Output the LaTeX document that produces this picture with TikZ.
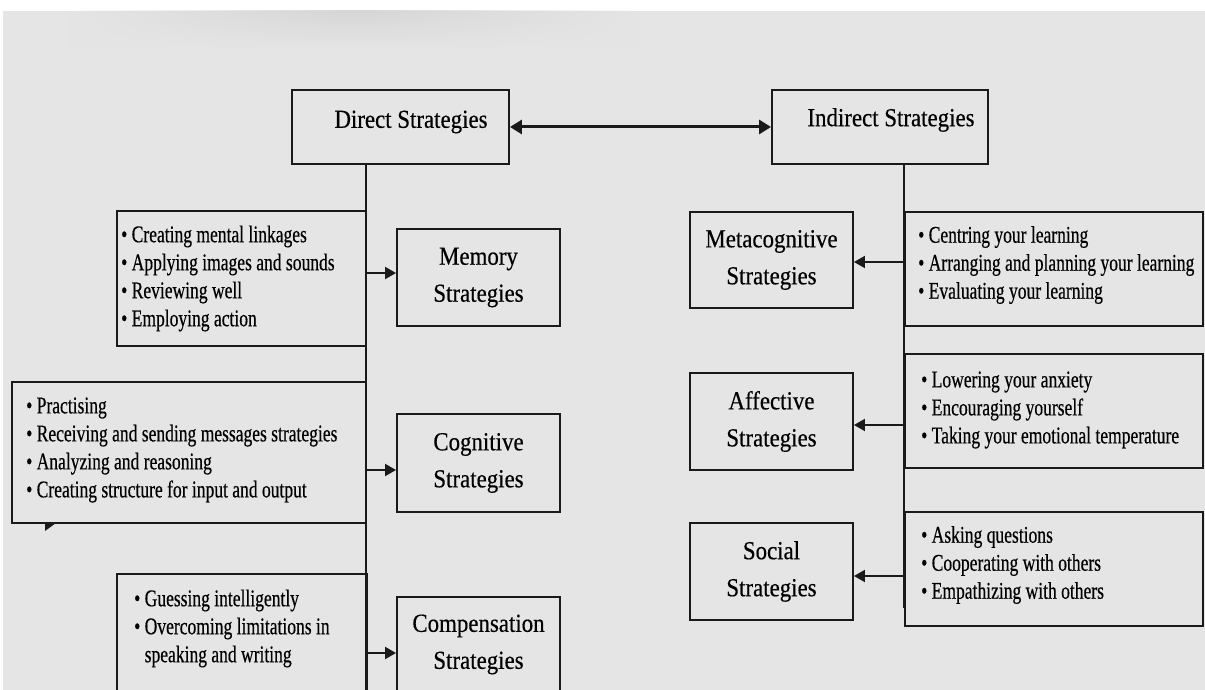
\documentclass[tikz,border=0pt]{standalone}
\usepackage{fontspec}
\setmainfont{Liberation Serif}
\newfontfamily\labfont{Liberation Serif}[FakeStretch=0.88,FakeBold=0.4]
\newfontfamily\bulfont{Liberation Serif}[FakeStretch=0.73,FakeBold=0.4]
\usetikzlibrary{arrows.meta,calc,fadings}
\definecolor{bg}{HTML}{E5E5E5}
\definecolor{shadowc}{HTML}{D6D6D6}
\definecolor{ink}{HTML}{1A1A1A}
\tikzfading[name=fadesides,left color=transparent!100,right color=transparent!100,middle color=transparent!0]
\begin{document}
\begin{tikzpicture}[x=1pt,y=-1pt,
  frame/.style={draw=ink,line width=1.9pt,inner sep=0pt,rectangle},
  labbox/.style={frame,minimum width=163pt,align=center,
    font=\labfont\fontsize{26}{37}\selectfont},
  headtext/.style={inner sep=0pt,font=\labfont\fontsize{26}{31}\selectfont},
  bultext/.style={inner sep=0pt,anchor=west,align=left,
    font=\bulfont\fontsize{24}{28}\selectfont},
  conn/.style={draw=ink,line width=1.9pt},
  arr/.style={conn,-{Triangle[length=11pt,width=12pt]}},
  darr/.style={draw=ink,line width=3pt,{Triangle[length=12pt,width=14pt]}-{Triangle[length=12pt,width=14pt]}}
]
\useasboundingbox (0,0) rectangle (1205,690);
\clip (0,0) rectangle (1205,690);
% background
\fill[white] (0,0) rectangle (1205,690);
\fill[bg] (3,11) rectangle (1205,690);
\shade[top color=shadowc,bottom color=bg,path fading=fadesides] (70,11) rectangle (640,50);

% top boxes
\node[frame,minimum width=217pt,minimum height=74pt] (dir) at (400.5,127) {};
\node[headtext] (dirt) at (411,122) {Direct Strategies};
\node[frame,minimum width=216pt,minimum height=74pt] (ind) at (880,127) {};
\node[headtext] (indt) at (891,120) {Indirect Strategies};

% direct branch boxes
\node[frame,minimum width=249pt,minimum height=135pt] (memb) at (241.5,278.5) {};
\node[labbox,minimum height=97pt] (mem) at (478.5,277.5) {Memory\\Strategies};
\node[frame,minimum width=354pt,minimum height=141pt] (cogb) at (189,452.5) {};
\node[labbox,minimum height=98pt] (cog) at (478.5,463) {Cognitive\\Strategies};
\node[frame,minimum width=250pt,minimum height=131pt] (compb) at (242,639.5) {};
\node[labbox,minimum height=95pt] (comp) at (478.5,644.5) {Compensation\\Strategies};

% indirect branch boxes
\node[labbox,minimum height=96pt] (meta) at (771.5,260) {Metacognitive\\Strategies};
\node[frame,minimum width=298pt,minimum height=114pt] (metab) at (1054,269) {};
\node[labbox,minimum height=97pt] (aff) at (771.5,421.5) {Affective\\Strategies};
\node[frame,minimum width=298pt,minimum height=114pt] (affb) at (1054,411) {};
\node[labbox,minimum height=97pt] (soc) at (771.5,571.5) {Social\\Strategies};
\node[frame,minimum width=298pt,minimum height=114pt] (socb) at (1054,569) {};

% trunks
\coordinate (dend) at (366,695);
\coordinate (iend) at (904,608);
\draw[conn] (dir.south -| dend) -- (dend);
\draw[conn] (ind.south -| iend) -- (iend);

% connectors
\draw[darr] (dir.east) -- (ind.west);
\draw[arr] ($(mem.west -| dend)+(0,-4.5)$) -- ($(mem.west)+(0,-4.5)$);
\draw[arr] ($(cog.west -| dend)+(0,7)$) -- ($(cog.west)+(0,7)$);
\draw[arr] ($(comp.west -| dend)+(0,8.5)$) -- ($(comp.west)+(0,8.5)$);
\draw[arr] ($(meta.east -| iend)+(0,2)$) -- ($(meta.east)+(0,2)$);
\draw[arr] ($(aff.east -| iend)+(0,3.5)$) -- ($(aff.east)+(0,3.5)$);
\draw[arr] ($(soc.east -| iend)+(0,4.5)$) -- ($(soc.east)+(0,4.5)$);

% small arrow-tip stub under the cognitive list
\fill[ink] (45,523) -- (56,523) -- (45,531) -- cycle;

% bullet texts
\node[bultext] (membt) at (121,278.5) {• Creating mental linkages\\• Applying images and sounds\\• Reviewing well\\• Employing action};
\node[bultext] (cogbt) at (26,450) {• Practising\\• Receiving and sending messages strategies\\• Analyzing and reasoning\\• Creating structure for input and output};
\node[bultext] (compbt) at (134,628.5) {• Guessing intelligently\\• Overcoming limitations in\\\phantom{• }speaking and writing};
\node[bultext] (metabt) at (918,265) {• Centring your learning\\• Arranging and planning your learning\\• Evaluating your learning};
\node[bultext] (affbt) at (921,410) {• Lowering your anxiety\\• Encouraging yourself\\• Taking your emotional temperature};
\node[bultext] (socbt) at (921,565) {• Asking questions\\• Cooperating with others\\• Empathizing with others};
\end{tikzpicture}
\end{document}
